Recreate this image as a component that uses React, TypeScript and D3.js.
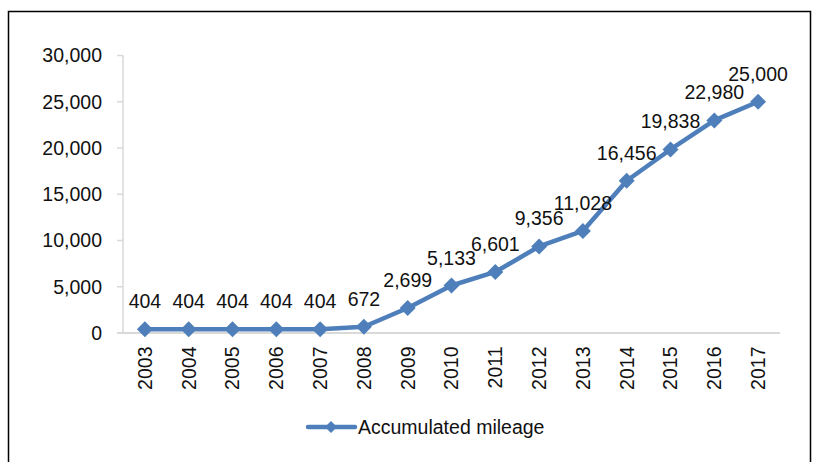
import React from "react";
import * as d3 from "d3";

const years = ["2003","2004","2005","2006","2007","2008","2009","2010","2011","2012","2013","2014","2015","2016","2017"];
const mileage = [404,404,404,404,404,672,2699,5133,6601,9356,11028,16456,19838,22980,25000];
const yTicks = [0,5000,10000,15000,20000,25000,30000];
const seriesName = "Accumulated mileage";

const W = 814, H = 462;
const FONT = "'Liberation Sans', Arial, sans-serif";
const FS = 19.5;
const BLUE = "#4F7FBA";
const GRAY = "#D9D9D9";

export default function App() {
  const x = d3.scaleBand<string>().domain(years).range([123, 780]);
  const y = d3.scaleLinear().domain([0, 30000]).range([333, 55.5]);
  const fmt = d3.format(",");
  const cx = (yr: string) => (x(yr) as number) + x.bandwidth() / 2;
  const line = d3.line<number>().x((_, i) => cx(years[i])).y((v) => y(v));
  const diamond = (px: number, py: number, r: number) =>
    `M${px},${py - r}L${px + r},${py}L${px},${py + r}L${px - r},${py}Z`;

  return (
    <svg width={W} height={H} style={{ position: "absolute", left: 0, top: 0, background: "#fff" }} fontFamily={FONT}>
      <rect x={0} y={0} width={W} height={H} fill="#fff" />
      <path d={`M8.5,${H}V11.5H810.5V${H}`} fill="none" stroke="#000" strokeWidth={1.5} />
      <line x1={123} x2={123} y1={y(30000)} y2={333} stroke={GRAY} strokeWidth={1.5} />
      <line x1={117} x2={780} y1={333} y2={333} stroke={GRAY} strokeWidth={2} />
      {yTicks.map((t) => (
        <g key={t}>
          <line x1={117} x2={123} y1={y(t)} y2={y(t)} stroke={GRAY} strokeWidth={1.5} />
          <text x={102} y={y(t)} dy="0.35em" textAnchor="end" fontSize={FS} fill="#111">{fmt(t)}</text>
        </g>
      ))}
      {years.map((yr) => (
        <text key={yr} transform={`translate(${cx(yr)},346.5) rotate(-90)`} textAnchor="end" dy="0.35em" fontSize={FS} fill="#111">{yr}</text>
      ))}
      <path d={line(mileage) || ""} fill="none" stroke={BLUE} strokeWidth={4.5} strokeLinejoin="round" />
      {mileage.map((v, i) => (
        <path key={i} d={diamond(cx(years[i]), y(v), 8)} fill={BLUE} />
      ))}
      {mileage.map((v, i) => (
        <text key={"l" + i} x={cx(years[i])} y={y(v) - 21} textAnchor="middle" fontSize={FS} fill="#111">{fmt(v)}</text>
      ))}
      <line x1={308} x2={355} y1={427} y2={427} stroke={BLUE} strokeWidth={4.5} strokeLinecap="round" />
      <path d={diamond(331, 427, 6)} fill={BLUE} />
      <text x={358} y={427} dy="0.35em" fontSize={FS} fill="#111">{seriesName}</text>
    </svg>
  );
}
